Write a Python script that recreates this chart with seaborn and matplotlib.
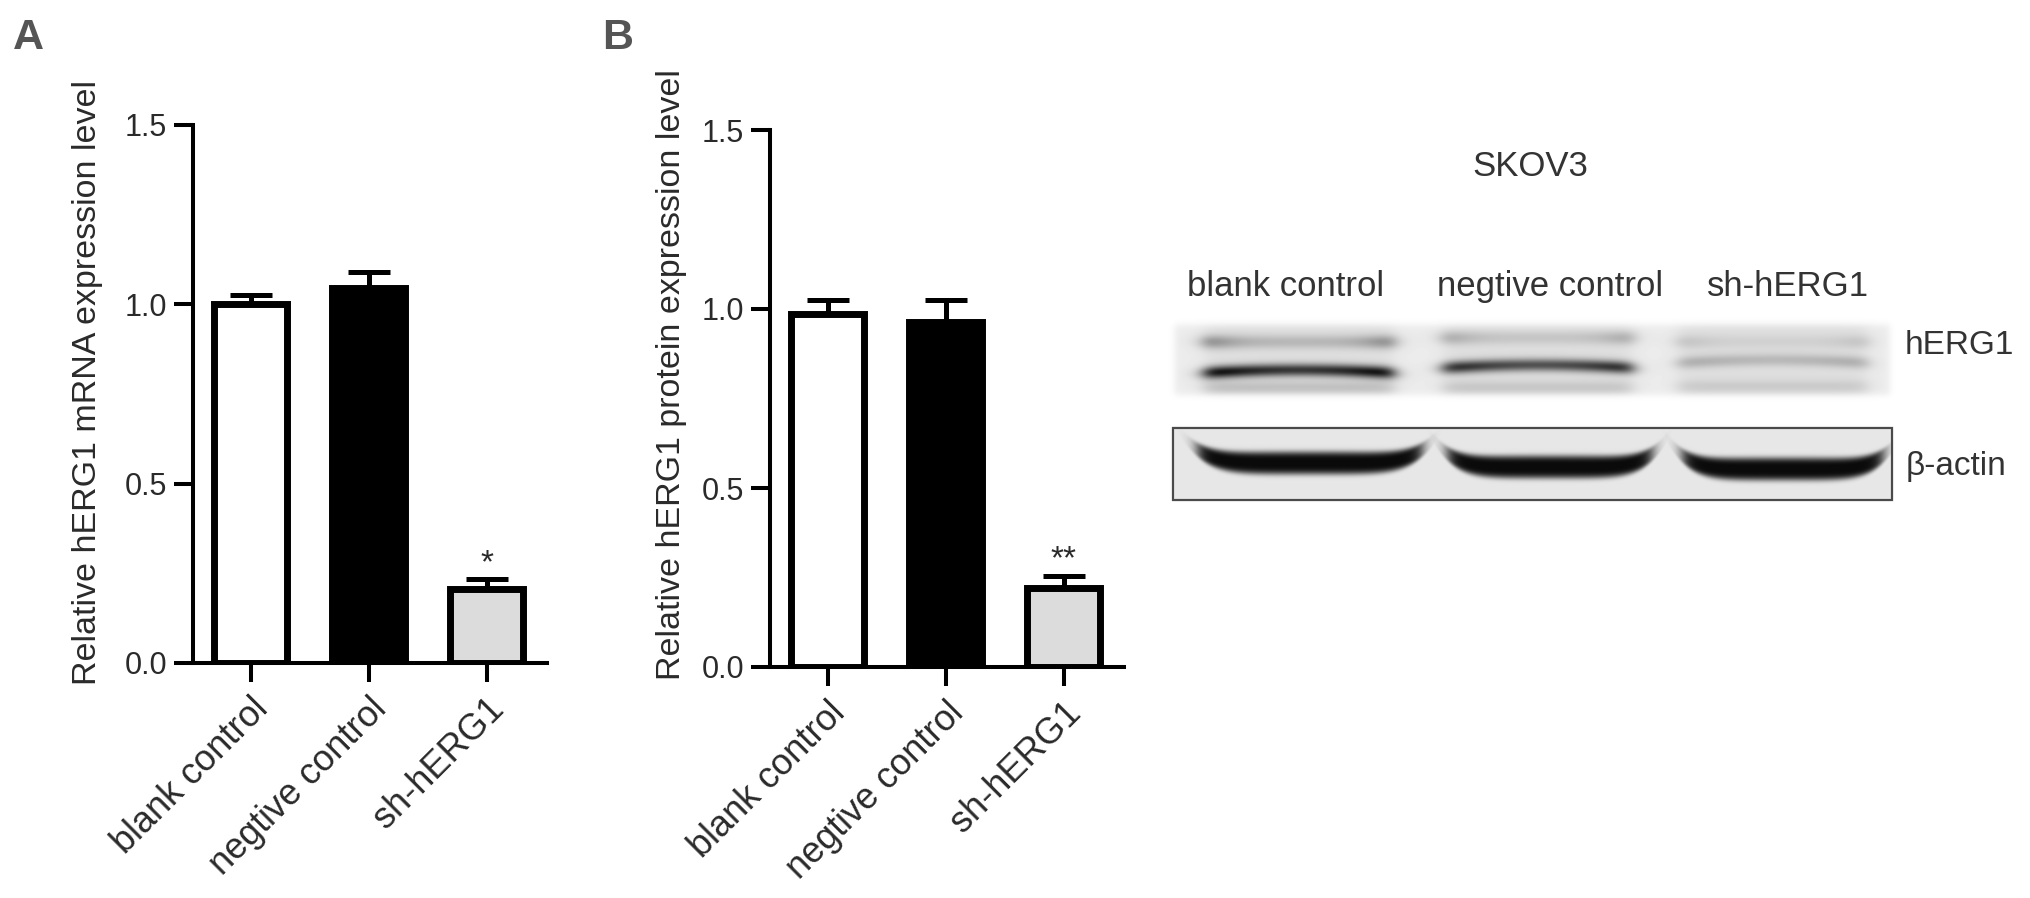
import numpy as np
import pandas as pd
import matplotlib
matplotlib.use("Agg")
import matplotlib.pyplot as plt
import seaborn as sns
from matplotlib.patches import Rectangle

# ---------------- data ----------------
categories = ["blank control", "negtive control", "sh-hERG1"]
mrna_mean = [1.00, 1.045, 0.205]
mrna_sem = [0.025, 0.045, 0.030]
mrna_sig = ["", "", "*"]
protein_mean = [0.985, 0.965, 0.220]
protein_sem = [0.040, 0.060, 0.035]
protein_sig = ["", "", "**"]
bar_colors = ["#ffffff", "#000000", "#dcdcdc"]
y_ticks = [0.0, 0.5, 1.0, 1.5]
y_ticklabels = ["0.0", "0.5", "1.0", "1.5"]
ylabel_a = "Relative hERG1 mRNA expression level"
ylabel_b = "Relative hERG1 protein expression level"

blot_title = "SKOV3"
blot_lanes = ["blank control", "negtive control", "sh-hERG1"]
blot_targets = ["hERG1", "β-actin"]
herg1_main_band = [0.95, 0.80, 0.22]
herg1_upper_band = [0.35, 0.22, 0.12]
herg1_lower_band = [0.15, 0.12, 0.10]
actin_band = [1.0, 1.0, 1.0]

# ---------------- style ----------------
sns.set_theme(style="ticks")
plt.rcParams["font.family"] = ["Liberation Sans", "DejaVu Sans"]
TXT = "#2a2a2a"

W, H = 2031, 898
fig = plt.figure(figsize=(W / 100, H / 100), dpi=100)
fig.patch.set_facecolor("white")


def bar_panel(rect, means, sems, sigs, ylabel, lab_xy):
    ax = fig.add_axes(rect)
    ax.set_facecolor("white")
    df = pd.DataFrame({"group": categories, "value": means})
    sns.barplot(data=df, x="group", y="value", hue="group", order=categories,
                hue_order=categories, palette=bar_colors, saturation=1,
                width=0.62, edgecolor="black", linewidth=5, legend=False,
                errorbar=None, ax=ax, zorder=2)
    xs = np.arange(len(categories))
    ax.errorbar(xs, means, yerr=[np.zeros(len(means)), sems], fmt="none",
                ecolor="black", elinewidth=3.6, capsize=15, capthick=3.6,
                zorder=3)
    for i, s in enumerate(sigs):
        if s:
            ax.annotate(s, xy=(i, means[i] + sems[i]), xytext=(0, 5),
                        textcoords="offset points", ha="center", va="baseline",
                        fontsize=24, color=TXT)
    ax.set_xlim(-0.49, 2.51)
    ax.set_ylim(0, 1.5)
    ax.set_yticks(y_ticks)
    ax.set_yticklabels(y_ticklabels)
    ax.set_xticks(xs)
    ax.set_xticklabels(categories, rotation=45, ha="right", va="top",
                       rotation_mode="anchor")
    ax.tick_params(axis="both", direction="out", length=13.7, width=2.9,
                   color="black")
    ax.tick_params(axis="y", labelsize=22, labelcolor=TXT, pad=5)
    ax.tick_params(axis="x", labelsize=26, labelcolor=TXT, pad=7)
    sns.despine(ax=ax)
    for side in ("left", "bottom"):
        ax.spines[side].set_linewidth(2.9)
        ax.spines[side].set_color("black")
    ax.set_xlabel("")
    ax.set_ylabel(ylabel, fontsize=24.5, color=TXT)
    ax.yaxis.label.set_verticalalignment("center")
    ax.yaxis.set_label_coords(*lab_xy)
    return ax


axA = bar_panel([193 / W, 1 - 663 / H, 354 / W, 538 / H], mrna_mean, mrna_sem,
                mrna_sig, ylabel_a, (-0.299, 0.522))
axB = bar_panel([770 / W, 1 - 667 / H, 354 / W, 537 / H], protein_mean,
                protein_sem, protein_sig, ylabel_b, (-0.277, 0.544))

fig.text(13 / W, 1 - 49 / H, "A", fontsize=31, fontweight="bold",
         color="#555555", va="baseline", ha="left")
fig.text(602 / W, 1 - 49 / H, "B", fontsize=31, fontweight="bold",
         color="#555555", va="baseline", ha="left")

# ---------------- western blot ----------------
bx = fig.add_axes([1150 / W, 0, (W - 1150) / W, 1])
bx.set_xlim(1150, W)
bx.set_ylim(H, 0)
bx.axis("off")

herg_cx = [1299, 1538, 1773]
herg_hw = 94
herg_main_y = [370, 365, 360]
herg_up_y = [342, 338, 342]
herg_low_y = [388, 388, 387]
actin_cx = [1310, 1550, 1783]
actin_hw = [112, 102, 100]
actin_y0 = [463, 467, 469]


def sig(v):
    return 1.0 / (1.0 + np.exp(-v))


def soft_box(v, lo, hi, s):
    return sig((v - lo) / s) * sig((hi - v) / s)


gx = np.arange(1150, W) + 0.5
gy = np.arange(300, 520) + 0.5
X, Y = np.meshgrid(gx, gy)
img = np.ones_like(X)

mem = soft_box(X, 1175, 1890, 2.0) * soft_box(Y, 325, 395, 2.0)
img = img - mem * 0.075
D = np.zeros_like(X)
for i in range(3):
    cx = herg_cx[i]
    lane = soft_box(X, cx - herg_hw, cx + herg_hw, 5.0) * mem
    img = img - lane * 0.05
    u = (X - cx) / herg_hw
    D += herg1_main_band[i] * (0.85 + 0.3 * u ** 2) * \
        np.exp(-0.5 * ((Y - herg_main_y[i] - 3 * u ** 2) / 4.5) ** 2) * lane
    D += herg1_upper_band[i] * (0.55 + 0.9 * u ** 4) * \
        np.exp(-0.5 * ((Y - herg_up_y[i]) / 5.0) ** 2) * lane
    D += herg1_lower_band[i] * np.exp(-0.5 * ((Y - herg_low_y[i]) / 5.0) ** 2) * lane
D = np.clip(D, 0, 1)
img = img - D * (img - 0.06)

box = soft_box(X, 1173, 1892, 0.8) * soft_box(Y, 428, 500, 0.8)
img = img * (1 - box) + 0.905 * box
D2 = np.zeros_like(X)
for i in range(3):
    cx, hw = actin_cx[i], actin_hw[i]
    u = (X - cx) / hw
    yc = actin_y0[i] - 13 * u ** 6
    half = 11.5 * (1 - 0.35 * u ** 4)
    D2 += actin_band[i] * np.exp(-((Y - yc) / half) ** 4) * \
        sig((1 - np.abs(u)) * hw / 4.0) * box
D2 = np.clip(D2, 0, 1)
img = img - D2 * (img - 0.04)

bx.imshow(img, cmap="gray", vmin=0, vmax=1, extent=(1150, W, 520, 300),
          aspect="auto", interpolation="bilinear", zorder=1)
bx.add_patch(Rectangle((1173, 428), 719, 72, fill=False, edgecolor="#4a4a4a",
                       linewidth=1.6, zorder=2))

bx.text(1530, 167, blot_title, fontsize=25, color="#333333", ha="center",
        va="center")
lane_label_x = [1286, 1550, 1788]
for i, name in enumerate(blot_lanes):
    bx.text(lane_label_x[i], 296, name, fontsize=25, color="#333333",
            ha="center", va="baseline")
bx.text(1905, 345, blot_targets[0], fontsize=24, color="#333333", ha="left",
        va="center")
bx.text(1906, 466, blot_targets[1], fontsize=24, color="#333333", ha="left",
        va="center")

fig.savefig("out.png", dpi=100, facecolor="white")
